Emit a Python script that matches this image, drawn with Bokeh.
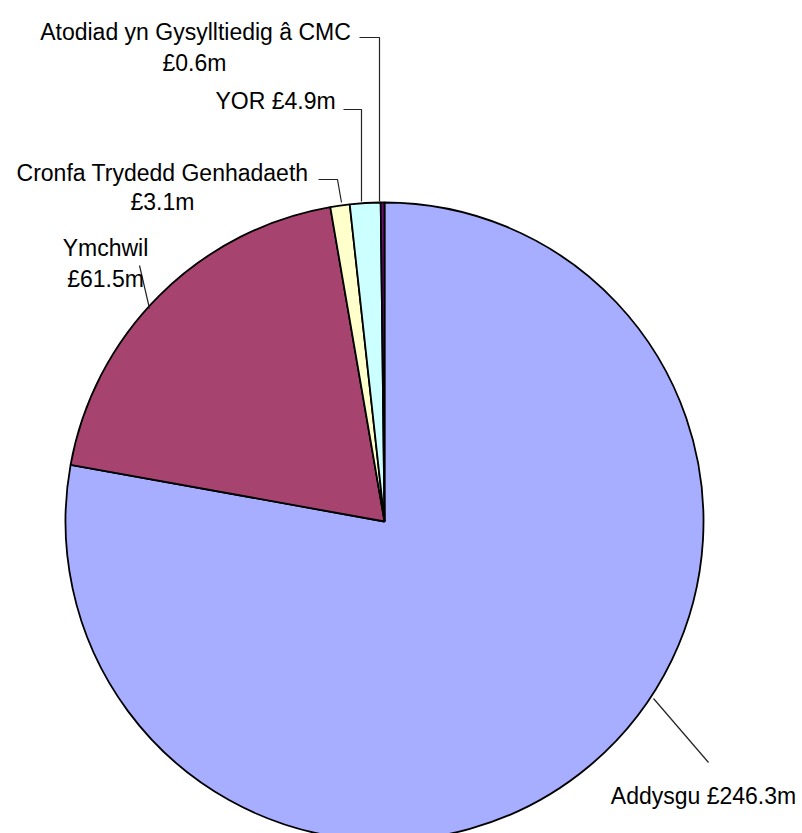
import math
from bokeh.plotting import figure
from bokeh.models import Range1d, ColumnDataSource
from bokeh.core.properties import value
from bokeh.embed import file_html
from bokeh.resources import INLINE

# ---- data ----
categories = ["Addysgu", "Ymchwil", "Cronfa Trydedd Genhadaeth", "YOR", "Atodiad yn Gysylltiedig â CMC"]
values = [246.3, 61.5, 3.1, 4.9, 0.6]
palette = ["#A7AEFF", "#A6446F", "#FFFFCC", "#CCFFFF", "#6A106E"]

W, H = 802, 833
def Y(sy):
    return H - sy

p = figure(width=W, height=H, output_backend="svg", toolbar_location=None,
           x_range=Range1d(0, W), y_range=Range1d(0, H), min_border=0)
p.axis.visible = False
p.grid.visible = False
p.outline_line_color = None
p.background_fill_color = "white"

total = sum(values)
starts, ends = [], []
cum = 0.0
for v in values:
    starts.append(math.radians(90 - cum / total * 360))
    cum += v
    ends.append(math.radians(90 - cum / total * 360))

cx, cy, r = 384, Y(521), 319
src = ColumnDataSource(dict(start=starts, end=ends, color=palette, cat=categories))
p.wedge(x=cx, y=cy, radius=r, start_angle="start", end_angle="end", direction="clock",
        fill_color="color", line_color="black", line_width=1.8, source=src)

# leader lines (screen coords)
leaders = [
    ([653, 708], [698, 762]),              # Addysgu
    ([139, 149], [265, 308]),              # Ymchwil
    ([318, 337, 341], [179, 179, 202]),    # Cronfa
    ([343, 361, 361], [109, 109, 201]),    # YOR
    ([359, 379, 379], [37, 37, 201]),      # Atodiad
]
for xs, ys in leaders:
    p.line(xs, [Y(v) for v in ys], line_color="#222222", line_width=1.2)

def fmt(v):
    return f"£{v}m"

labels = [
    (categories[0] + " " + fmt(values[0]), 703, 795),
    (categories[1], 105, 247),
    (fmt(values[1]), 105, 278),
    (categories[2], 162, 172),
    (fmt(values[2]), 162, 201),
    (categories[3] + " " + fmt(values[3]), 275, 100),
    (categories[4], 195, 31),
    (fmt(values[4]), 194, 62),
]
lsrc = ColumnDataSource(dict(x=[l[1] for l in labels], y=[Y(l[2]) for l in labels],
                             t=[l[0] for l in labels]))
p.text(x="x", y="y", text="t", source=lsrc, text_font=value("Liberation Sans"),
       text_font_size="23px", text_align="center", text_baseline="alphabetic",
       text_color="black")

open("out.html", "w").write(file_html(p, INLINE))
